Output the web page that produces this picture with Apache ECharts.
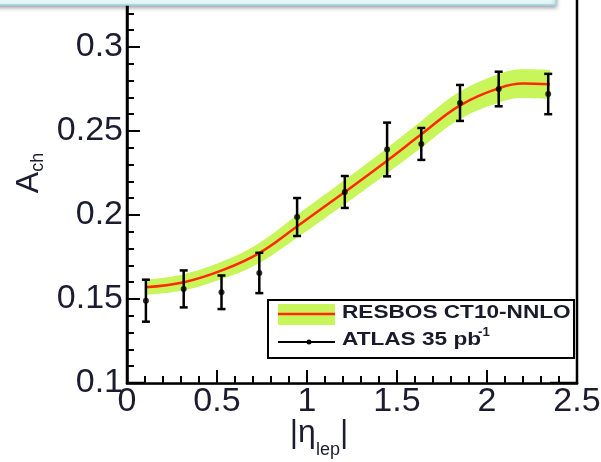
<!DOCTYPE html>
<html>
<head>
<meta charset="UTF-8">
<title>Ach vs eta</title>
<script src="https://cdn.jsdelivr.net/npm/echarts@6/dist/echarts.min.js"></script>
<style>html,body{margin:0;padding:0;background:#fff;}</style>
</head>
<body>
<div id="chart" style="width:601px;height:462px;"></div>
<script>
// ATLAS 35 pb-1 points
var etaData = [0.105, 0.315, 0.525, 0.735, 0.945, 1.21, 1.445, 1.635, 1.85, 2.065, 2.34];
var achData = [0.149, 0.156, 0.154, 0.1655, 0.1988, 0.2137, 0.239, 0.2423, 0.2667, 0.275, 0.272];
var errData = [0.0125, 0.011, 0.010, 0.012, 0.0113, 0.0095, 0.016, 0.0095, 0.0107, 0.0103, 0.012];

// RESBOS CT10-NNLO prediction and its band half width
var curveEta = [0.1, 0.316, 0.538, 0.737, 0.948, 1.22, 1.447, 1.635, 1.846, 2.068, 2.2, 2.35];
var curveAch = [0.157, 0.16, 0.1675, 0.1775, 0.1935, 0.2145, 0.2325, 0.248, 0.265, 0.2755, 0.2782, 0.2778];
var bandHalf = [0.0045, 0.0048, 0.0052, 0.006, 0.0068, 0.0072, 0.0076, 0.008, 0.0082, 0.0085, 0.0086, 0.0087];

var xTicks = [0, 2.5, 0.5];
var yTicks = [0.1, 0.35, 0.05];

var textCol = '#1c1c30';
var green = '#c8f55a';

var bandUp = curveEta.map(function (x, i) { return [x, curveAch[i] + bandHalf[i]]; });
var bandLow = curveEta.map(function (x, i) { return [x, curveAch[i] - bandHalf[i]]; });
var curve = curveEta.map(function (x, i) { return [x, curveAch[i]]; });
var points = etaData.map(function (x, i) { return [x, achData[i]]; });
var errBars = etaData.map(function (x, i) { return [x, achData[i], errData[i]]; });

function renderErr(params, api) {
  var x = api.value(0), y = api.value(1), e = api.value(2);
  var top = api.coord([x, y + e]);
  var bot = api.coord([x, y - e]);
  var w = 4;
  var st = { stroke: '#000', lineWidth: 2.5 };
  return {
    type: 'group',
    children: [
      { type: 'line', shape: { x1: top[0], y1: top[1], x2: bot[0], y2: bot[1] }, style: st },
      { type: 'line', shape: { x1: top[0] - w, y1: top[1], x2: top[0] + w, y2: top[1] }, style: st },
      { type: 'line', shape: { x1: bot[0] - w, y1: bot[1], x2: bot[0] + w, y2: bot[1] }, style: st }
    ]
  };
}

var chart = echarts.init(document.getElementById('chart'), null, { renderer: 'canvas' });

var font = 'Liberation Sans';

chart.setOption({
  animation: false,
  backgroundColor: '#fff',
  grid: {
    left: 127, right: 24, top: 383 - (yTicks[1] - yTicks[0]) * 1680, bottom: 79,
    outerBoundsMode: 'none', containLabel: false,
    show: true, borderColor: '#000', borderWidth: 2.5, backgroundColor: 'transparent'
  },
  xAxis: {
    type: 'value', min: xTicks[0], max: xTicks[1], interval: xTicks[2], z: 10,
    axisLine: { show: true, onZero: false, lineStyle: { color: '#000', width: 2.5 } },
    axisTick: { inside: true, length: 13, lineStyle: { color: '#000', width: 2 } },
    minorTick: { show: true, splitNumber: 5, length: 7, lineStyle: { color: '#000', width: 2 } },
    splitLine: { show: false },
    axisLabel: { color: textCol, fontSize: 34, fontFamily: font, margin: 2 },
    name: '{a||\u03b7}{s|lep}{a||}',
    nameLocation: 'middle', nameGap: 24, nameMoveOverlap: false,
    nameTextStyle: {
      padding: [0, 66, 0, 0],
      rich: {
        a: { fontSize: 32, fontFamily: font, color: textCol },
        s: { fontSize: 18, fontFamily: font, color: textCol, padding: [34, 0, 0, 0] }
      }
    }
  },
  yAxis: {
    type: 'value', min: yTicks[0], max: yTicks[1], interval: yTicks[2], z: 10,
    axisLine: { show: true, onZero: false, lineStyle: { color: '#000', width: 2.5 } },
    axisTick: { inside: true, length: 13, lineStyle: { color: '#000', width: 2 } },
    minorTick: { show: true, splitNumber: 5, length: 7, lineStyle: { color: '#000', width: 2 } },
    splitLine: { show: false },
    axisLabel: { color: textCol, fontSize: 34, fontFamily: font, margin: 4 },
    name: '{a|A}{s|ch}',
    nameLocation: 'middle', nameGap: 80, nameRotate: 90, nameMoveOverlap: false,
    nameTextStyle: {
      rich: {
        a: { fontSize: 32, fontFamily: font, color: textCol },
        s: { fontSize: 18, fontFamily: font, color: textCol, padding: [18, 0, 0, 0] }
      }
    }
  },
  series: [
    {
      name: 'band upper', type: 'line', data: bandUp, smooth: 0.4,
      showSymbol: false, lineStyle: { width: 0, opacity: 0 },
      areaStyle: { color: green, opacity: 1, origin: 'start' }, silent: true, z: 1
    },
    {
      name: 'band lower', type: 'line', data: bandLow, smooth: 0.4,
      showSymbol: false, lineStyle: { width: 0, opacity: 0 },
      areaStyle: { color: '#fff', opacity: 1, origin: 'start' }, silent: true, z: 1
    },
    {
      name: 'RESBOS CT10-NNLO', type: 'line', data: curve, smooth: 0.4,
      showSymbol: false, lineStyle: { color: '#ff2a00', width: 2.5 }, z: 2
    },
    {
      name: 'ATLAS err', type: 'custom', data: errBars, renderItem: renderErr, z: 3
    },
    {
      name: 'ATLAS 35 pb-1', type: 'scatter', data: points, symbolSize: 6,
      itemStyle: { color: '#000' }, z: 4
    }
  ],
  graphic: [
    {
      type: 'rect', z: 100,
      shape: { x: -6, y: -20, width: 562, height: 25 },
      style: { fill: '#e6f7fa', stroke: '#9fd6df', lineWidth: 1.5,
        shadowBlur: 4, shadowOffsetY: 2, shadowColor: 'rgba(0,0,0,0.35)' }
    },
    { type: 'rect', z: 100, shape: { x: 268, y: 300, width: 306, height: 58 },
      style: { fill: '#fff', stroke: '#000', lineWidth: 2 } },
    { type: 'rect', z: 101, shape: { x: 278, y: 304, width: 57, height: 21 },
      style: { fill: green } },
    { type: 'line', z: 102, shape: { x1: 278, y1: 314, x2: 335, y2: 314 },
      style: { stroke: '#ff2a00', lineWidth: 2.5 } },
    { type: 'line', z: 102, shape: { x1: 278, y1: 342, x2: 335, y2: 342 },
      style: { stroke: '#000', lineWidth: 2 } },
    { type: 'circle', z: 103, shape: { cx: 309, cy: 342, r: 2.5 }, style: { fill: '#000' } },
    { type: 'text', z: 103, x: 342, y: 313, scaleX: 1.19,
      style: { text: 'RESBOS CT10-NNLO', fontSize: 19, fontWeight: 'bold', fontFamily: font,
        fill: '#1a1a2a', verticalAlign: 'middle' } },
    { type: 'text', z: 103, x: 342, y: 340, scaleX: 1.19,
      style: { text: 'ATLAS 35 pb', fontSize: 19, fontWeight: 'bold', fontFamily: font,
        fill: '#1a1a2a', verticalAlign: 'middle' } },
    { type: 'text', z: 103, x: 478, y: 333, scaleX: 1.1,
      style: { text: '-1', fontSize: 12, fontWeight: 'bold', fontFamily: font,
        fill: '#1a1a2a', verticalAlign: 'middle' } }
  ]
});
</script>
</body>
</html>
